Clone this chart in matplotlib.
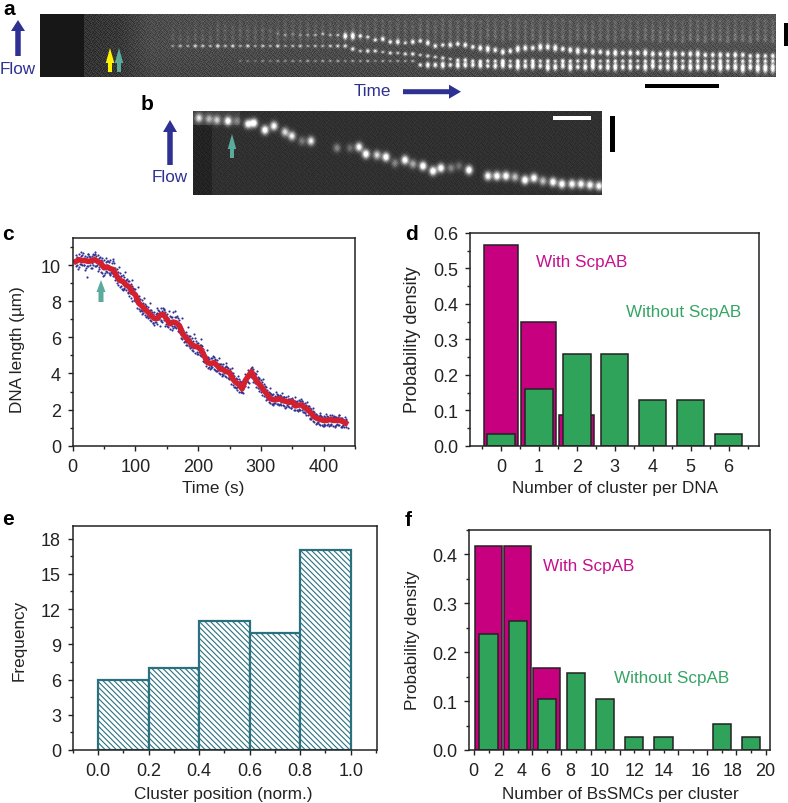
import numpy as np
import matplotlib
matplotlib.use('Agg')
import matplotlib.pyplot as plt
from matplotlib.transforms import ScaledTranslation
from matplotlib.ticker import MultipleLocator

plt.rcParams['font.family'] = ['Liberation Sans', 'DejaVu Sans']
plt.rcParams['font.size'] = 12.3
plt.rcParams['hatch.linewidth'] = 0.8

W, H = 788, 804
BLUE = '#2e3192'
TEAL = '#5aab9b'
MAGENTA = '#c7007f'
GREEN = '#2fa35a'
INK = '#222222'

# panel c: trace, every 5 s from 5 s
trace_y = [10.2, 10.3, 10.25, 10.25, 10.2, 10.25, 10.3, 10.2, 10.1, 9.85, 9.9, 9.8, 9.75, 9.4, 9.15, 9.1, 8.9, 8.8,
           8.5, 8.35, 7.9, 7.75, 7.55, 7.4, 7.2, 7.05, 7.05, 7.25, 7.25, 7.0, 6.75, 6.85, 6.8, 6.65, 6.2, 6.0, 5.8,
           5.6, 5.5, 5.45, 5.3, 4.95, 4.6, 4.55, 4.6, 4.45, 4.25, 4.2, 4.1, 4.05, 3.7, 3.5, 3.4, 3.15, 3.6, 3.85, 4.1,
           3.75, 3.5, 3.3, 3.05, 2.85, 2.6, 2.55, 2.55, 2.6, 2.5, 2.45, 2.4, 2.45, 2.2, 2.25, 2.25, 2.1, 2.0, 1.8, 1.6,
           1.5, 1.45, 1.4, 1.4, 1.45, 1.4, 1.4, 1.4, 1.35, 1.25]
# raw points round the trace, upper and lower edge of the cloud
dots_hi = [10.55, 10.6, 10.55, 10.5, 10.6, 10.5, 10.7, 10.55, 10.3, 10.3, 10.25, 10.3, 10.2, 9.8, 9.55, 9.45, 9.2, 9.1,
           8.85, 8.65, 8.3, 8.05, 7.85, 7.7, 7.5, 7.4, 7.35, 7.6, 7.55, 7.3, 7.2, 7.4, 7.1, 6.95, 6.5, 6.3, 6.1, 5.95,
           5.95, 5.7, 5.6, 5.2, 4.9, 4.85, 4.9, 4.75, 4.5, 4.5, 4.4, 4.25, 4.0, 3.75, 3.7, 3.4, 3.95, 4.2, 4.3, 4.05,
           3.8, 3.65, 3.4, 3.1, 2.9, 2.85, 2.85, 2.8, 2.7, 2.7, 2.6, 2.65, 2.45, 2.55, 2.5, 2.35, 2.2, 2.05, 1.85, 1.7,
           1.7, 1.65, 1.65, 1.7, 1.6, 1.6, 1.7, 1.55, 1.5]
dots_lo = [9.95, 9.9, 10.0, 9.75, 9.95, 9.85, 9.95, 9.7, 9.6, 9.45, 9.6, 9.45, 9.4, 9.0, 8.8, 8.6, 8.6, 8.3, 8.0, 8.0,
           7.55, 7.45, 7.25, 7.05, 6.9, 6.7, 6.75, 6.9, 6.95, 6.65, 6.45, 6.5, 6.5, 6.3, 5.9, 5.6, 5.5, 5.3, 5.15, 5.1,
           4.95, 4.65, 4.3, 4.3, 4.25, 4.15, 3.95, 3.9, 3.8, 3.75, 3.35, 3.2, 3.0, 2.95, 3.3, 3.55, 3.8, 3.45, 3.2, 3.0,
           2.75, 2.6, 2.35, 2.25, 2.3, 2.3, 2.25, 2.15, 2.15, 2.2, 1.95, 2.0, 1.95, 1.8, 1.7, 1.5, 1.3, 1.25, 1.15, 1.1,
           1.15, 1.15, 1.1, 1.15, 1.15, 1.1, 1.05]
# same again, half way between the 5 s steps
dots_hi2 = [10.45, 10.5, 10.4, 10.45, 10.45, 10.6, 10.5, 10.4, 10.2, 10.15, 10.15, 10.1, 9.85, 9.6, 9.4, 9.35, 9.1, 8.95,
            8.65, 8.3, 8.1, 7.9, 7.75, 7.5, 7.3, 7.3, 7.45, 7.45, 7.4, 7.05, 7.1, 7.1, 7.05, 6.65, 6.3, 6.15, 5.9, 5.8,
            5.7, 5.55, 5.35, 4.95, 4.8, 4.85, 4.75, 4.55, 4.4, 4.35, 4.3, 4.1, 3.85, 3.7, 3.5, 3.55, 3.9, 4.15, 4.25,
            3.95, 3.7, 3.5, 3.25, 3.0, 2.8, 2.75, 2.8, 2.75, 2.7, 2.6, 2.6, 2.5, 2.5, 2.45, 2.35, 2.25, 2.1, 1.9, 1.75,
            1.65, 1.6, 1.6, 1.6, 1.6, 1.6, 1.6, 1.55, 1.45]
dots_lo2 = [10.0, 10.05, 10.0, 9.95, 10.0, 10.0, 9.95, 9.8, 9.55, 9.65, 9.55, 9.55, 9.15, 8.9, 8.85, 8.7, 8.45, 8.2, 8.05,
            7.65, 7.45, 7.35, 7.1, 6.95, 6.8, 6.85, 7.0, 6.85, 6.65, 6.55, 6.6, 6.55, 6.35, 5.95, 5.75, 5.55, 5.4, 5.25,
            5.2, 5.0, 4.7, 4.4, 4.35, 4.35, 4.2, 4.0, 3.95, 3.85, 3.75, 3.4, 3.25, 3.1, 2.95, 3.35, 3.6, 3.85, 3.5, 3.25,
            3.05, 2.8, 2.55, 2.4, 2.3, 2.35, 2.3, 2.25, 2.2, 2.2, 2.1, 1.95, 2.0, 1.95, 1.85, 1.7, 1.55, 1.35, 1.2, 1.2,
            1.15, 1.15, 1.2, 1.15, 1.1, 1.15, 1.05, 1.05]
# stragglers above and below the trace, to break up the edge of the cloud
dots_a = [10.42, 10.05, 10.65, 9.85, 10.5, 10.1, 10.6, 9.9, 10.4, 9.55, 10.2, 9.6, 10.1, 9.15, 9.4, 8.75, 9.25, 8.45,
          8.75, 8.15, 8.15, 7.3, 7.75, 7.15, 7.4, 6.85, 7.5, 6.95, 7.5, 6.75, 7.1, 6.6, 7.2, 6.4, 6.4, 5.75, 6.05, 5.4,
          5.8, 5.2, 5.5, 4.7, 4.85, 4.4, 4.8, 4.2, 4.5, 4.0, 4.35, 3.8, 3.9, 3.25, 3.6, 2.9, 3.8, 3.45, 4.35, 3.55, 3.75,
          3.1, 3.3, 2.7, 2.85, 2.35, 2.75, 2.4, 2.7, 2.25, 2.6, 2.25, 2.4, 2.05, 2.45, 1.9, 2.2, 1.6, 1.75, 1.3, 1.65,
          1.2, 1.6, 1.2, 1.65, 1.2, 1.55, 1.15, 1.45]
dots_b = [9.8, 10.7, 10.0, 10.6, 9.85, 10.55, 10.0, 10.45, 9.4, 10.4, 9.5, 10.35, 9.3, 9.9, 8.7, 9.6, 8.5, 9.2, 8.1, 8.8,
          7.5, 8.2, 7.2, 7.9, 6.8, 7.6, 6.6, 7.65, 6.75, 7.45, 6.4, 7.45, 6.4, 7.05, 5.8, 6.55, 5.45, 6.2, 5.1, 5.9, 4.85,
          5.3, 4.25, 4.95, 4.15, 4.85, 3.85, 4.6, 3.7, 4.3, 3.25, 3.85, 2.95, 3.5, 3.25, 4.25, 3.7, 4.15, 3.15, 3.7, 2.7,
          3.2, 2.3, 2.95, 2.25, 2.9, 2.1, 2.75, 2.1, 2.7, 1.9, 2.6, 1.85, 2.4, 1.5, 2.1, 1.25, 1.8, 1.1, 1.75, 1.1, 1.7,
          1.05, 1.7, 1.05, 1.6, 1.0]

# panel d
d_with = [0.565, 0.348, 0.087]
d_without = [0.032, 0.161, 0.258, 0.258, 0.129, 0.129, 0.032]

# panel e
e_edges = [0.0, 0.2, 0.4, 0.6, 0.8]
e_freq = [6, 7, 11, 10, 17]

# panel f
f_with_x = [1, 3, 5]
f_with = [0.417, 0.417, 0.167]
f_without_x = [1, 3, 5, 7, 9, 11, 13, 17, 19]
f_without = [0.237, 0.263, 0.105, 0.158, 0.105, 0.026, 0.026, 0.053, 0.026]
f_ticks = [0, 2, 4, 6, 8, 10, 12, 14, 16, 18, 20]
f_tick_shift = [-0.7, -5.5, -10.7, -15.8, -20.7, -20.5, -14.7, -14.8, -6.7, -3.8, -0.7]

# panel b kymograph spots: x, y in figure pixels and brightness
b_x = [199, 209, 217, 228, 237, 248, 254, 265, 274, 285, 292, 302, 311, 337, 350, 359, 366, 377, 386, 395, 405, 413,
       423, 433, 441, 451, 459, 469, 488, 497, 506, 515, 525, 534, 543, 553, 562, 572, 581, 590, 599]
b_y = [119, 120, 121, 122, 122, 125, 124, 131, 127, 133, 137, 142, 142, 149, 149, 148, 155, 156, 158, 164, 161, 165,
       167, 172, 169, 169, 167, 171, 177, 177, 177, 178, 181, 179, 182, 183, 185, 185, 185, 186, 187]
b_amp = [0.7, 0.5, 0.6, 0.9, 0.3, 0.9, 1.0, 1.0, 0.9, 0.7, 0.8, 0.3, 0.8, 0.35, 0.25, 0.9, 1.0, 0.7, 1.0, 0.35, 0.95,
         0.5, 1.0, 1.0, 0.95, 0.35, 0.25, 1.0, 0.9, 0.95, 0.95, 0.6, 1.0, 0.95, 0.6, 0.95, 0.95, 0.9, 0.9, 0.9, 0.9]

# panel a kymograph tracks, one y per frame, frames are 7.5 px apart
a_bot_start = 9
a_bot_y = [62, 62, 62, 62, 62, 62, 62, 62, 62, 62, 62, 62, 62, 62, 62, 62, 62, 62, 62, 62, 62, 62, 62, 62,
           66, 66, 66, 66, 66, 66, 66, 66, 66, 67, 67, 66, 67, 67, 67, 67, 67, 68, 68, 67, 68, 68, 68, 67, 68, 68,
           68, 68, 68, 68, 68, 67, 68, 68, 68, 68, 68, 68, 68, 68, 68, 68, 68, 69, 68, 69, 69, 69]
a_bot_amp = [0.2, 0.25, 0.2, 0.3, 0.25, 0.35, 0.3, 0.35, 0.3, 0.4, 0.3, 0.4, 0.35, 0.4, 0.3, 0.4, 0.35, 0.45, 0.3, 0.4,
             0.35, 0.4, 0.35, 0.45, 0.7, 0.85, 0.8, 0.9, 0.75, 0.9, 0.85, 0.8, 0.9, 0.75, 0.85, 0.9, 0.8, 0.95, 0.85,
             0.9, 0.8, 0.95, 0.9, 0.85, 0.95, 0.8, 0.9, 0.95, 0.85, 0.9, 0.95, 0.85, 0.9, 0.8, 0.95, 0.9, 0.85, 0.9, 0.95,
             0.85, 0.95, 0.9, 0.95, 0.85, 1.0, 0.9, 0.95, 1.0, 0.9, 1.0, 1.0, 1.0]
a_mid_start = 0
a_mid_y = [47, 47, 47, 47, 47, 47, 47, 47, 47, 47, 47, 47, 47, 47, 47, 47, 47, 47, 47, 47, 47, 47, 47, 47, 50, 52, 52,
           52, 53, 54, 54, 55, 55, 56, 57, 58, 59, 60, 61, 61, 62, 62, 62, 62, 62, 62, 62, 62, 62, 62, 62, 62, 62, 62,
           62, 62, 62, 62, 62, 62, 62, 62, 62, 62, 62, 62, 62, 62, 62, 62, 62, 62, 62, 62, 62, 62, 62, 62, 62, 62, 62]
a_mid_amp = [0.35, 0.5, 0.4, 0.6, 0.55, 0.45, 0.65, 0.5, 0.6, 0.45, 0.6, 0.4, 0.55, 0.45, 0.6, 0.4, 0.5, 0.55, 0.4, 0.5,
             0.45, 0.55, 0.6, 0.65, 0.7, 0.55, 0.7, 0.65, 0.5, 0.65, 0.55, 0.65, 0.7, 0.55, 0.65, 0.6, 0.65, 0.55, 0.65, 0.7,
             0.65, 0.6, 0.7, 0.65, 0.75, 0.6, 0.7, 0.65, 0.75, 0.65, 0.7, 0.6, 0.75, 0.65, 0.7, 0.65, 0.75, 0.6, 0.7, 0.65,
             0.65, 0.7, 0.6, 0.65, 0.7, 0.65, 0.6, 0.7, 0.65, 0.65, 0.7, 0.6, 0.65, 0.7, 0.65, 0.6, 0.65, 0.7, 0.65, 0.65, 0.65]
a_top_start = 14
a_top_y = [35, 36, 35, 36, 36, 36, 35, 36, 36, 37, 37, 37, 38, 41, 40, 43, 43, 44, 43, 42, 44, 47, 46, 46, 45, 46, 48, 49,
           50, 51, 53, 52, 50, 49, 49, 48, 48, 49, 50, 51, 52, 52, 53, 53, 54, 54, 54, 54, 54, 54, 55, 55, 55, 55, 55,
           55, 55, 56, 56, 56, 56, 56, 56, 57, 57, 57, 57]
a_top_amp = [0.2, 0.3, 0.25, 0.3, 0.35, 0.4, 0.45, 0.4, 0.45, 0.85, 0.9, 0.7, 0.6, 0.65, 0.75, 0.7, 0.8, 0.6, 0.75, 0.7,
             0.8, 0.75, 0.7, 0.8, 0.75, 0.8, 0.75, 0.85, 0.9, 0.8, 0.85, 0.8, 0.9, 0.85, 0.8, 0.9, 0.85, 0.9, 0.8,
             0.85, 0.9, 0.8, 0.85, 0.8, 0.85, 0.9, 0.8, 0.85, 0.8, 0.9, 0.85, 0.8, 0.9, 0.85, 0.8, 0.85, 0.9, 0.8,
             0.8, 0.85, 0.8, 0.85, 0.8, 0.75, 0.8, 0.75, 0.8]
# faint spots: one row per y, brightness for each block of three frames
a_faint_y = [22, 27, 32, 37, 41]
a_faint_amp = [[0.0, 0.05, 0.05, 0.1, 0.1, 0.15, 0.1, 0.1, 0.15, 0.2, 0.15, 0.2, 0.25, 0.3, 0.2, 0.25, 0.2, 0.25, 0.15, 0.25, 0.2, 0.15, 0.2, 0.25, 0.2, 0.2, 0.25],
               [0.05, 0.1, 0.2, 0.15, 0.1, 0.2, 0.2, 0.15, 0.25, 0.2, 0.25, 0.3, 0.3, 0.2, 0.25, 0.3, 0.25, 0.2, 0.3, 0.25, 0.2, 0.25, 0.2, 0.3, 0.25, 0.2, 0.25],
               [0.1, 0.15, 0.25, 0.3, 0.35, 0.25, 0.3, 0.2, 0.25, 0.3, 0.25, 0.35, 0.3, 0.35, 0.35, 0.3, 0.35, 0.3, 0.35, 0.3, 0.35, 0.4, 0.35, 0.3, 0.35, 0.3, 0.35],
               [0.15, 0.2, 0.2, 0.25, 0.2, 0.25, 0.15, 0.2, 0.15, 0.2, 0.2, 0.25, 0.3, 0.35, 0.4, 0.35, 0.4, 0.35, 0.4, 0.35, 0.35, 0.4, 0.35, 0.4, 0.35, 0.4, 0.35],
               [0.2, 0.25, 0.2, 0.2, 0.25, 0.2, 0.2, 0.15, 0.2, 0.2, 0.25, 0.2, 0.25, 0.25, 0.2, 0.25, 0.3, 0.25, 0.3, 0.3, 0.25, 0.35, 0.4, 0.45, 0.45, 0.45, 0.45]]
# grey level of the strip behind the spots
a_bg_x = [84, 120, 150, 300, 500, 776]
a_bg_rows = [15, 45, 78]
a_bg = [[0.20, 0.22, 0.30, 0.31, 0.33, 0.33],
        [0.20, 0.22, 0.30, 0.30, 0.31, 0.32],
        [0.20, 0.21, 0.27, 0.27, 0.28, 0.28]]
# small hand made grain patch, repeated over both strips
grain = np.array([[1, -2, 0, 3, -1, 2, -3, 1, 0, -2, 2],
                  [-3, 2, -1, 0, 2, -2, 1, 3, -2, 0, -1],
                  [2, 0, 3, -2, 1, -1, 0, -3, 2, 1, -2],
                  [-1, 3, -2, 1, -3, 0, 2, -1, 3, -2, 0],
                  [0, -2, 1, 2, 0, 3, -2, 0, -1, 2, 1],
                  [3, -1, -3, 0, 2, -1, 1, 2, -3, 0, -2],
                  [-2, 1, 2, -3, 0, 1, 3, -2, 1, -1, 2],
                  [1, 3, -1, 2, -2, 0, -1, 1, 2, 3, -3],
                  [-1, 0, 2, -2, 3, -3, 0, 2, -1, -2, 1]]) / 3.0


def spot(img, x0, y0, x, y, amp, sx, sy):
    h, w = img.shape
    xx = np.arange(w) + x0 + 0.5
    yy = np.arange(h) + y0 + 0.5
    img += amp * np.outer(np.exp(-(yy - y) ** 2 / (2 * sy ** 2)), np.exp(-(xx - x) ** 2 / (2 * sx ** 2)))


def tiled(shape):
    return np.tile(grain, (shape[0] // 9 + 1, shape[1] // 11 + 1))[:shape[0], :shape[1]]


def px_axes(left, top, right, bottom):
    return fig.add_axes([left / W, 1 - bottom / H, (right - left) / W, (bottom - top) / H])


def style(ax, xmajor, xminor, ymajor, yminor):
    ax.xaxis.set_major_locator(MultipleLocator(xmajor))
    ax.xaxis.set_minor_locator(MultipleLocator(xminor))
    ax.yaxis.set_major_locator(MultipleLocator(ymajor))
    ax.yaxis.set_minor_locator(MultipleLocator(yminor))
    ax.tick_params(which='major', length=3.5, width=1, color=INK, labelcolor=INK, pad=5, labelsize=13)
    ax.tick_params(which='minor', length=2, width=1, color=INK)
    for s in ax.spines.values():
        s.set_linewidth(1.1)
        s.set_color(INK)


fig = plt.figure(figsize=(W / 100, H / 100), dpi=100)

# overlay in figure pixels for the two image strips, arrows and letters
ov = fig.add_axes([0, 0, 1, 1], zorder=5)
ov.patch.set_alpha(0)
ov.axis('off')

# panel a image
ax0, ay0, ax1, ay1 = 40, 15, 776, 78
img_a = np.zeros((ay1 - ay0, ax1 - ax0))
xs = np.arange(ax1 - ax0) + ax0 + 0.5
for i in range(img_a.shape[0]):
    r = np.array([np.interp(i + ay0, a_bg_rows, [row[k] for row in a_bg]) for k in range(len(a_bg_x))])
    img_a[i] = np.interp(xs, a_bg_x, r)
img_a += 0.07 * tiled(img_a.shape)
img_a[:, :84 - ax0] = 0.09

frame_x = [172.8 + 7.5 * n for n in range(81)]
for fy, row in zip(a_faint_y, a_faint_amp):
    for n, fx in enumerate(frame_x):
        spot(img_a, ax0, ay0, fx, fy + (n % 3) - 1, 0.38 * row[n // 3], 1.2, 1.6)
for start, ys, amps in [(a_bot_start, a_bot_y, a_bot_amp), (a_mid_start, a_mid_y, a_mid_amp),
                        (a_top_start, a_top_y, a_top_amp)]:
    for n, (ty, amp) in enumerate(zip(ys, amps)):
        spot(img_a, ax0, ay0, frame_x[start + n], ty, amp, 0.9 + 0.6 * amp, 0.8 + 2.4 * amp ** 4)
ov.imshow(img_a, cmap='gray', vmin=0, vmax=1, extent=[ax0, ax1, ay1, ay0], aspect='auto', interpolation='bilinear')

# panel b image
bx0, by0, bx1, by1 = 193, 112, 602, 196
img_b = np.full((by1 - by0, bx1 - bx0), 0.19)
img_b[:, :212 - bx0] = 0.14
img_b[:14, :240 - bx0] = 0.25
img_b += 0.035 * tiled(img_b.shape)
for x, y, amp in zip(b_x, b_y, b_amp):
    spot(img_b, bx0, by0, x, y, amp, 2.5, 3.0)
ov.imshow(img_b, cmap='gray', vmin=0, vmax=1, extent=[bx0, bx1, by1, by0], aspect='auto', interpolation='bilinear')
ov.set_xlim(0, W)
ov.set_ylim(H, 0)


def up_arrow(x, y_tail, y_tip, color, width, head_w, head_l):
    ov.arrow(x, y_tail, 0, y_tip - y_tail, width=width, head_width=head_w, head_length=head_l,
             length_includes_head=True, color=color, linewidth=0)


up_arrow(18, 57, 21, BLUE, 5.5, 14, 11)
up_arrow(110, 73, 49, '#fff200', 4, 8.5, 15)
up_arrow(119, 73, 49, TEAL, 4, 8.5, 15)
up_arrow(170, 166, 121, BLUE, 5.5, 14, 12)
up_arrow(232, 159, 135, TEAL, 4, 8.5, 15)
up_arrow(101, 303, 281, TEAL, 5, 9, 12)
ov.arrow(403, 92.7, 58, 0, width=5, head_width=14, head_length=12, length_includes_head=True, color=BLUE, linewidth=0)

ov.text(18, 69, 'Flow', color=BLUE, ha='center', va='center')
ov.text(170, 178, 'Flow', color=BLUE, ha='center', va='center')
ov.text(372, 92, 'Time', color=BLUE, ha='center', va='center')

# scale bars
ov.fill_between([645, 719], 85, 89, color='black', linewidth=0)
ov.fill_between([784, 788], 24, 47, color='black', linewidth=0)
ov.fill_between([553, 591], 117, 121, color='white', linewidth=0)
ov.fill_between([610, 615], 117, 153, color='black', linewidth=0)

for letter, x, y in [('a', 9, 15), ('b', 147, 110), ('c', 8, 240), ('d', 412, 240), ('e', 8, 525), ('f', 408, 526)]:
    ov.text(x, y, letter, fontsize=15, fontweight='bold', color='black', ha='center', va='baseline')

# panel c
ax = px_axes(72.7, 239, 355, 446.7)
t = 5 + 5 * np.arange(len(trace_y))
t2 = t[:-1] + 2.5
for tt, yy in [(t, dots_hi), (t, dots_lo), (t2, dots_hi2), (t2, dots_lo2), (t + 1.25, dots_a), (t + 3.75, dots_b)]:
    ax.scatter(tt[:len(yy)], yy[:len(tt)], s=2.4, color=BLUE, linewidths=0)
ax.scatter([22], [9.35], s=2.4, color=BLUE, linewidths=0)
ax.plot(t, trace_y, color='#d2202e', lw=4.0, solid_joinstyle='round')
ax.set_xlim(0, 450)
ax.set_ylim(0, 11.5)
style(ax, 100, 50, 2, 1)
ax.set_xlabel('Time (s)', va='center', color=INK)
ax.set_ylabel('DNA length (\u00b5m)', va='center', color=INK)
ax.xaxis.set_label_coords(213, 489, transform=ov.transData)
ax.yaxis.set_label_coords(18, 350, transform=ov.transData)

# panel d
ax = px_axes(470, 234, 759, 446.7)
ax.bar(range(len(d_with)), d_with, width=0.92, color=MAGENTA, edgecolor=INK, linewidth=1.1)
ax.bar(range(len(d_without)), d_without, width=0.72, color=GREEN, edgecolor=INK, linewidth=1.1)
ax.set_xlim(-0.816, 6.8)
ax.set_ylim(0, 0.6)
style(ax, 1, 0.5, 0.1, 0.05)
ax.set_xlabel('Number of cluster per DNA', va='center', color=INK)
ax.set_ylabel('Probability density', va='center', color=INK, fontsize=13)
ax.xaxis.set_label_coords(615, 489, transform=ov.transData)
ax.yaxis.set_label_coords(413, 340, transform=ov.transData)
ov.text(582, 263, 'With ScpAB', color='#c8108c', ha='center', va='center')
ov.text(684, 313, 'Without ScpAB', color='#35a565', ha='center', va='center')

# panel e
ax = px_axes(72.7, 526.7, 377, 751)
ax.bar(e_edges, e_freq, width=0.2, align='edge', facecolor='white', edgecolor='#2a7180', hatch='\\' * 6, linewidth=1.6)
ax.set_xlim(-0.1, 1.104)
ax.set_ylim(0, 19.1)
style(ax, 0.2, 0.1, 3, 1.5)
ax.set_xlabel('Cluster position (norm.)', va='center', color=INK)
ax.set_ylabel('Frequency', va='center', color=INK)
ax.xaxis.set_label_coords(223, 795, transform=ov.transData)
ax.yaxis.set_label_coords(19, 640, transform=ov.transData)

# panel f
ax = px_axes(469.3, 530.7, 770, 751)
ax.bar(f_with_x, f_with, width=1.85, color=MAGENTA, edgecolor=INK, linewidth=1.1)
ax.bar(f_without_x, f_without, width=1.25, color=GREEN, edgecolor=INK, linewidth=1.1)
ax.set_xlim(-0.32, 20.3)
ax.set_ylim(0, 0.45)
style(ax, 2, 1, 0.1, 0.05)
ax.set_xticks(f_ticks)
ax.set_xticklabels([str(v) for v in f_ticks])
for lab, dx in zip(ax.get_xticklabels(), f_tick_shift):
    lab.set_transform(lab.get_transform() + ScaledTranslation(dx / 100, 0, fig.dpi_scale_trans))
ax.set_xlabel('Number of BsSMCs per cluster', va='center', color=INK)
ax.set_ylabel('Probability density', va='center', color=INK)
ax.xaxis.set_label_coords(620, 795, transform=ov.transData)
ax.yaxis.set_label_coords(413, 640, transform=ov.transData)
ov.text(589, 567, 'With ScpAB', color='#c8108c', ha='center', va='center')
ov.text(672, 679, 'Without ScpAB', color='#35a565', ha='center', va='center')

fig.savefig('out.png', dpi=100)
